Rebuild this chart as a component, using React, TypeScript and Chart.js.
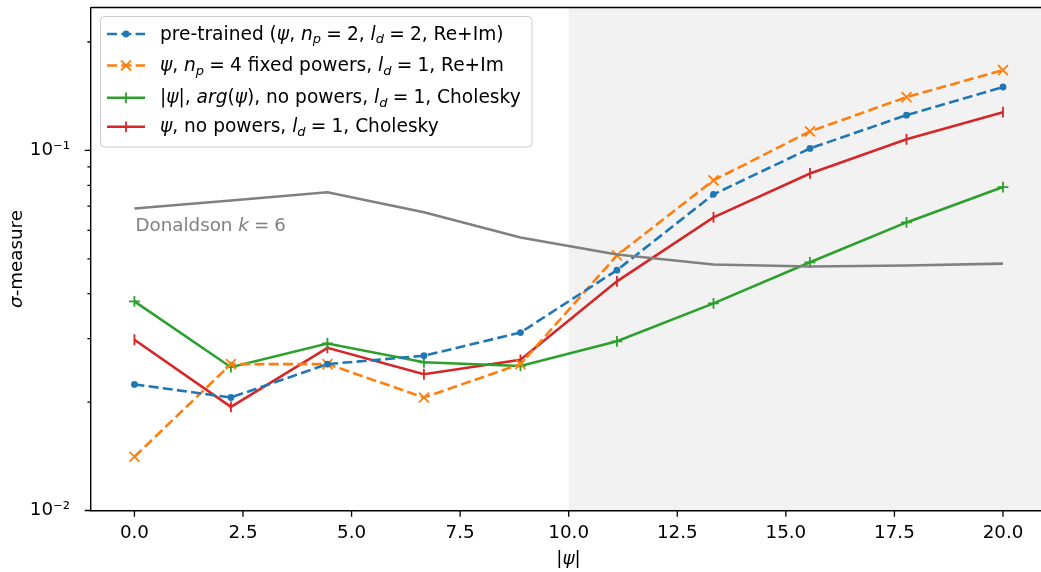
import React, { useEffect, useRef } from "react";
import { Chart, registerables } from "chart.js";

Chart.register(...registerables);

// ---------- data ----------
const xValues = [0, 2.2222, 4.4444, 6.6667, 8.8889, 11.1111, 13.3333, 15.5556, 17.7778, 20];
const pretrained = [0.0224, 0.0206, 0.0255, 0.0269, 0.0312, 0.0465, 0.0755, 0.1013, 0.1253, 0.150];
const fixedPowers = [0.0141, 0.0255, 0.0255, 0.0206, 0.0255, 0.0511, 0.0826, 0.1129, 0.1406, 0.1671];
const absArg = [0.0381, 0.0250, 0.0291, 0.0258, 0.0252, 0.0295, 0.0376, 0.0489, 0.0631, 0.0791];
const noPowers = [0.0298, 0.0194, 0.0283, 0.0239, 0.0262, 0.0433, 0.0652, 0.0863, 0.1074, 0.1277];
const donaldson = [0.069, 0.0726, 0.0765, 0.0673, 0.0573, 0.0514, 0.0482, 0.0476, 0.0479, 0.0485];

const xTicks = [0, 2.5, 5, 7.5, 10, 12.5, 15, 17.5, 20];
const yMajorTicks = [0.01, 0.1];
const yMinorTicks = [0.02, 0.03, 0.04, 0.05, 0.06, 0.07, 0.08, 0.09, 0.2];
const yMajorLabels: Record<string, string> = { "0.01": "10\u207B\u00B2", "0.1": "10\u207B\u00B9" };
const shadeStart = 10;
const donaldsonAnchor = { x: 0, y: 0.0597 };

type Seg = { t: string; it?: boolean; sub?: boolean; g?: number };
const TS = 0.278; // mathtext thick space (em)
const eq = (n: string): Seg[] => [{ t: "", g: TS }, { t: "=" }, { t: "", g: TS }, { t: n }];
const legendLabels: Seg[][] = [
  [{ t: "pre-trained (" }, { t: "\u03C8", it: true }, { t: ", " }, { t: "n", it: true }, { t: "p", it: true, sub: true }, ...eq("2"), { t: ", " }, { t: "l", it: true }, { t: "d", it: true, sub: true }, ...eq("2"), { t: ", Re+Im)" }],
  [{ t: "\u03C8", it: true }, { t: ", " }, { t: "n", it: true }, { t: "p", it: true, sub: true }, ...eq("4"), { t: " fixed powers, " }, { t: "l", it: true }, { t: "d", it: true, sub: true }, ...eq("1"), { t: ", Re+Im" }],
  [{ t: "|" }, { t: "\u03C8", it: true }, { t: "|, " }, { t: "arg", it: true }, { t: "(" }, { t: "\u03C8", it: true }, { t: "), no powers, " }, { t: "l", it: true }, { t: "d", it: true, sub: true }, ...eq("1"), { t: ", Cholesky" }],
  [{ t: "\u03C8", it: true }, { t: ", no powers, " }, { t: "l", it: true }, { t: "d", it: true, sub: true }, ...eq("1"), { t: ", Cholesky" }],
];
const yTitle: Seg[] = [{ t: "\u03C3", it: true }, { t: "-measure" }];
const xTitle: Seg[] = [{ t: "|" }, { t: "\u03C8", it: true }, { t: "|" }];
const donaldsonLabel: Seg[] = [{ t: "Donaldson " }, { t: "k", it: true }, ...eq("6")];

const BLUE = "#1f77b4";
const ORANGE = "#ff7f0e";
const GREEN = "#2ca02c";
const RED = "#d62728";
const GRAY = "#808080";
const FONT = '"DejaVu Sans", sans-serif';
const FS = 18.3;
const LFS = 18.6;
const DASH = [10, 4.3];

function segFont(s: Seg, size: number) {
  const sz = s.sub ? size * 0.7 : size;
  return `${s.it ? "italic " : ""}${sz}px ${FONT}`;
}
function segWidth(ctx: CanvasRenderingContext2D, s: Seg, size: number) {
  if (s.g) return s.g * size;
  ctx.font = segFont(s, size);
  return ctx.measureText(s.t).width;
}
function richWidth(ctx: CanvasRenderingContext2D, segs: Seg[], size: number) {
  let w = 0;
  for (const s of segs) w += segWidth(ctx, s, size);
  return w;
}
function drawRich(ctx: CanvasRenderingContext2D, x: number, y: number, segs: Seg[], size: number, color: string) {
  ctx.fillStyle = color;
  ctx.textAlign = "left";
  ctx.textBaseline = "alphabetic";
  let cx = x;
  for (const s of segs) {
    const w = segWidth(ctx, s, size);
    if (!s.g) {
      ctx.font = segFont(s, size);
      ctx.fillText(s.t, cx, y + (s.sub ? size * 0.2 : 0));
    }
    cx += w;
  }
}

function drawMarker(ctx: CanvasRenderingContext2D, kind: string, x: number, y: number, color: string) {
  ctx.save();
  ctx.strokeStyle = color;
  ctx.fillStyle = color;
  ctx.lineWidth = 1.8;
  ctx.setLineDash([]);
  ctx.beginPath();
  if (kind === "dot") {
    ctx.arc(x, y, 3.4, 0, Math.PI * 2);
    ctx.fill();
  } else if (kind === "x") {
    const r = 5;
    ctx.moveTo(x - r, y - r); ctx.lineTo(x + r, y + r);
    ctx.moveTo(x - r, y + r); ctx.lineTo(x + r, y - r);
    ctx.stroke();
  } else if (kind === "plus") {
    const r = 5.4;
    ctx.moveTo(x - r, y); ctx.lineTo(x + r, y);
    ctx.moveTo(x, y - r); ctx.lineTo(x, y + r);
    ctx.stroke();
  } else if (kind === "vline") {
    const r = 5.4;
    ctx.moveTo(x, y - r); ctx.lineTo(x, y + r);
    ctx.stroke();
  }
  ctx.restore();
}

const legendHandles = [
  { color: BLUE, dashed: true, marker: "dot" },
  { color: ORANGE, dashed: true, marker: "x" },
  { color: GREEN, dashed: false, marker: "plus" },
  { color: RED, dashed: false, marker: "vline" },
];

const overlayPlugin = {
  id: "overlay",
  beforeDatasetsDraw(chart: any) {
    const { ctx, chartArea, scales } = chart;
    const x0 = scales.x.getPixelForValue(shadeStart);
    ctx.save();
    ctx.fillStyle = "rgba(128,128,128,0.1)";
    ctx.fillRect(x0, chartArea.top, chartArea.right - x0, chartArea.bottom - chartArea.top);
    ctx.restore();
  },
  afterDraw(chart: any) {
    const { ctx, chartArea, scales } = chart;
    const xs = scales.x;
    const ys = scales.y;
    ctx.save();
    // top spine
    ctx.strokeStyle = "#000";
    ctx.lineWidth = 1.4;
    ctx.beginPath();
    ctx.moveTo(chartArea.left, chartArea.top);
    ctx.lineTo(chartArea.right, chartArea.top);
    ctx.stroke();
    // tick marks
    ctx.lineWidth = 1.3;
    ctx.beginPath();
    for (const v of xTicks) {
      const px = xs.getPixelForValue(v);
      ctx.moveTo(px, chartArea.bottom);
      ctx.lineTo(px, chartArea.bottom + 6.3);
    }
    for (const v of yMajorTicks) {
      const py = ys.getPixelForValue(v);
      ctx.moveTo(chartArea.left, py);
      ctx.lineTo(chartArea.left - 6.3, py);
    }
    for (const v of yMinorTicks) {
      const py = ys.getPixelForValue(v);
      ctx.moveTo(chartArea.left, py);
      ctx.lineTo(chartArea.left - 3.6, py);
    }
    ctx.stroke();

    // axis titles
    const xw = richWidth(ctx, xTitle, FS);
    drawRich(ctx, (chartArea.left + 1046) / 2 - xw / 2, 564, xTitle, FS, "#000");
    const yw = richWidth(ctx, yTitle, FS);
    ctx.save();
    ctx.translate(22, (chartArea.top + chartArea.bottom) / 2);
    ctx.rotate(-Math.PI / 2);
    drawRich(ctx, -yw / 2, 0, yTitle, FS, "#000");
    ctx.restore();

    // Donaldson label
    drawRich(ctx, xs.getPixelForValue(donaldsonAnchor.x) + 1, ys.getPixelForValue(donaldsonAnchor.y), donaldsonLabel, FS, GRAY);

    // legend
    const bx = 100.5, by = 16.5, bw = 431.5, bh = 130.5, rr = 4;
    ctx.beginPath();
    ctx.moveTo(bx + rr, by);
    ctx.lineTo(bx + bw - rr, by);
    ctx.quadraticCurveTo(bx + bw, by, bx + bw, by + rr);
    ctx.lineTo(bx + bw, by + bh - rr);
    ctx.quadraticCurveTo(bx + bw, by + bh, bx + bw - rr, by + bh);
    ctx.lineTo(bx + rr, by + bh);
    ctx.quadraticCurveTo(bx, by + bh, bx, by + bh - rr);
    ctx.lineTo(bx, by + rr);
    ctx.quadraticCurveTo(bx, by, bx + rr, by);
    ctx.closePath();
    ctx.fillStyle = "rgba(255,255,255,0.8)";
    ctx.fill();
    ctx.strokeStyle = "#cccccc";
    ctx.lineWidth = 1;
    ctx.stroke();

    const baselines = [39.5, 71, 103.3, 132.3];
    legendHandles.forEach((h, i) => {
      const ly = baselines[i] - 5.5;
      ctx.save();
      ctx.strokeStyle = h.color;
      ctx.lineWidth = 2.6;
      ctx.setLineDash(h.dashed ? DASH : []);
      ctx.beginPath();
      ctx.moveTo(107, ly);
      ctx.lineTo(145, ly);
      ctx.stroke();
      ctx.restore();
      drawMarker(ctx, h.marker, 126, ly, h.color);
      drawRich(ctx, 160, baselines[i], legendLabels[i], LFS, "#000");
    });
    ctx.restore();
  },
};

function makeData(arr: number[]) {
  return xValues.map((x, i) => ({ x, y: arr[i] }));
}

function zeroPadding(s: any) {
  s.paddingLeft = 0;
  s.paddingRight = 0;
  s.paddingTop = 0;
  s.paddingBottom = 0;
}

export default function App() {
  const ref = useRef<HTMLCanvasElement | null>(null);
  useEffect(() => {
    if (!ref.current) return;
    const chart = new Chart(ref.current, {
      type: "line",
      data: {
        datasets: [
          {
            label: "donaldson",
            data: makeData(donaldson),
            borderColor: GRAY,
            borderWidth: 2.6,
            pointRadius: 0,
            tension: 0,
          },
          {
            label: "pretrained",
            data: makeData(pretrained),
            borderColor: BLUE,
            borderWidth: 2.6,
            borderDash: DASH,
            pointStyle: "circle",
            pointRadius: 2.7,
            pointBorderWidth: 1.4,
            pointBackgroundColor: BLUE,
            pointBorderColor: BLUE,
            tension: 0,
          },
          {
            label: "fixed",
            data: makeData(fixedPowers),
            borderColor: ORANGE,
            borderWidth: 2.6,
            borderDash: DASH,
            pointStyle: "crossRot",
            pointRadius: 7,
            pointBorderWidth: 1.8,
            pointBorderColor: ORANGE,
            pointBackgroundColor: ORANGE,
            tension: 0,
          },
          {
            label: "absarg",
            data: makeData(absArg),
            borderColor: GREEN,
            borderWidth: 2.6,
            pointStyle: "cross",
            pointRadius: 5.4,
            pointBorderWidth: 1.8,
            pointBorderColor: GREEN,
            pointBackgroundColor: GREEN,
            tension: 0,
          },
          {
            label: "nopowers",
            data: makeData(noPowers),
            borderColor: RED,
            borderWidth: 2.6,
            pointStyle: "line",
            pointRotation: 90,
            pointRadius: 5.4,
            pointBorderWidth: 1.8,
            pointBorderColor: RED,
            pointBackgroundColor: RED,
            tension: 0,
          },
        ],
      },
      options: {
        animation: false,
        responsive: false,
        devicePixelRatio: 1,
        events: [],
        layout: { autoPadding: false, padding: { left: 0, right: 0, top: 7.5, bottom: 0 } },
        plugins: { legend: { display: false }, tooltip: { enabled: false } },
        scales: {
          x: {
            type: "linear",
            min: -1,
            max: 20.875,
            bounds: "data",
            afterBuildTicks: (s: any) => {
              s.ticks = xTicks.map((v) => ({ value: v }));
            },
            afterFit: (s: any) => {
              s.height = 61.5;
              zeroPadding(s);
            },
            grid: { display: false },
            border: { display: true, color: "#000", width: 1.4 },
            ticks: {
              color: "#000",
              font: { family: FONT, size: FS },
              padding: 4,
              maxRotation: 0,
              autoSkip: false,
              callback: (v: any) => Number(v).toFixed(1),
            },
          },
          y: {
            type: "logarithmic",
            min: 0.01,
            max: 0.2494,
            afterBuildTicks: (s: any) => {
              s.ticks = [...yMajorTicks, ...yMinorTicks].sort((a, b) => a - b).map((v) => ({ value: v }));
            },
            afterFit: (s: any) => {
              s.width = 91;
              zeroPadding(s);
            },
            grid: { display: false },
            border: { display: true, color: "#000", width: 1.4 },
            ticks: {
              color: "#000",
              font: { family: FONT, size: FS },
              padding: 13,
              autoSkip: false,
              callback: (v: any) => yMajorLabels[String(v)] ?? "",
            },
          },
        },
      },
      plugins: [overlayPlugin],
    } as any);
    return () => chart.destroy();
  }, []);
  return (
    <div style={{ position: "absolute", left: 0, top: 0, width: 1041, height: 572, background: "#fff" }}>
      <canvas ref={ref} width={1041} height={572} style={{ display: "block" }} />
    </div>
  );
}
